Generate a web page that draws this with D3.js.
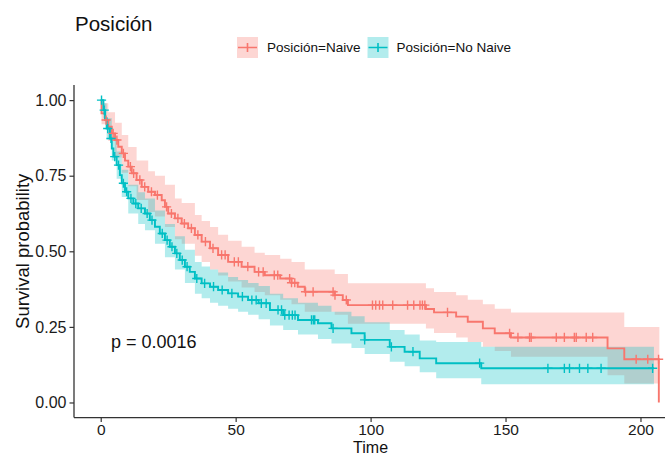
<!DOCTYPE html>
<html>
<head>
<meta charset="utf-8">
<script src="https://cdn.jsdelivr.net/npm/d3@7"></script>
<style>
  html, body { margin: 0; padding: 0; background: #fff; }
  svg { display: block; font-family: "Liberation Sans", Arial, sans-serif; }
</style>
</head>
<body>
<svg id="chart" width="665" height="456"></svg>
<script>
// Kaplan–Meier estimates by group: [time, survival]
const naiveSteps = [
  [0, 1], [0.3, 0.956], [1.6, 0.934], [2.8, 0.912], [4.1, 0.89], [5.3, 0.868],
  [6.5, 0.846], [7.8, 0.824], [9, 0.80], [10.2, 0.78], [11.5, 0.758], [13.3, 0.736],
  [15.2, 0.713], [17.6, 0.697], [20.1, 0.686], [22.6, 0.669], [23.8, 0.647], [25, 0.625],
  [27.5, 0.609], [30, 0.592], [32.4, 0.576], [34.9, 0.554], [37.4, 0.532], [40.5, 0.51],
  [43.5, 0.488], [47.2, 0.465], [52.2, 0.449], [57, 0.432], [60.8, 0.421], [66.5, 0.41],
  [70.7, 0.396], [73, 0.383], [75.6, 0.366], [86.7, 0.355], [89.7, 0.339], [91.6, 0.322],
  [120.5, 0.309], [123.5, 0.298], [131.7, 0.284], [136, 0.267], [141.6, 0.245], [146, 0.229],
  [152, 0.215], [187.8, 0.179], [194, 0.143], [206.8, 0]
];
const noNaiveSteps = [
  [0, 1], [1, 0.967], [1.6, 0.94], [2.2, 0.906], [3.4, 0.873], [4.1, 0.84], [4.7, 0.813],
  [5.9, 0.785], [7.1, 0.752], [7.8, 0.725], [9, 0.697], [10.2, 0.675], [12.1, 0.658],
  [13.9, 0.642], [16.4, 0.625], [18.2, 0.603], [20.1, 0.581], [21.9, 0.559], [23.8, 0.537],
  [25.6, 0.515], [27.5, 0.493], [29.3, 0.471], [31.2, 0.449], [33, 0.432], [34.9, 0.41],
  [37.4, 0.394], [40.5, 0.383], [43.5, 0.372], [47.2, 0.361], [50.9, 0.35], [54.6, 0.339],
  [58.5, 0.328], [62.7, 0.306], [67.6, 0.289], [73.1, 0.273], [80.5, 0.262], [85.5, 0.245],
  [92.9, 0.229], [97.8, 0.207], [107.1, 0.184], [112.6, 0.168], [118.2, 0.146], [124.3, 0.13],
  [141, 0.113], [205, 0.113]
];

// 95% confidence bands: [time, lower, upper]
const naiveBand = [
  [0, 1, 1], [0.3, 0.92, 0.99], [2.8, 0.865, 0.96], [5.3, 0.81, 0.925], [7.8, 0.76, 0.885],
  [10.2, 0.715, 0.845], [13.3, 0.67, 0.80], [17.6, 0.63, 0.765], [20.1, 0.615, 0.75],
  [23.8, 0.58, 0.72], [27.5, 0.54, 0.675], [30, 0.525, 0.66], [34.9, 0.485, 0.62],
  [37.4, 0.465, 0.60], [40.5, 0.44, 0.58], [43.5, 0.42, 0.555], [47.2, 0.40, 0.535],
  [52.2, 0.38, 0.515], [57, 0.365, 0.495], [60.8, 0.355, 0.488], [66.5, 0.34, 0.475],
  [70.7, 0.325, 0.465], [75.6, 0.30, 0.44], [86.7, 0.29, 0.425], [91.6, 0.26, 0.394],
  [120.5, 0.245, 0.378], [123.5, 0.23, 0.365], [131.7, 0.215, 0.355], [136, 0.20, 0.34],
  [141.6, 0.184, 0.325], [146, 0.17, 0.31], [152, 0.151, 0.298], [187.8, 0.09, 0.298],
  [194, 0.063, 0.25], [207, 0.063, 0.25]
];
const noNaiveBand = [
  [0, 1, 1], [1, 0.94, 0.99], [2.2, 0.87, 0.94], [4.1, 0.80, 0.88], [5.9, 0.74, 0.83],
  [7.8, 0.68, 0.77], [10.2, 0.625, 0.72], [13.9, 0.59, 0.695], [16.4, 0.57, 0.675],
  [20.1, 0.525, 0.635], [23.8, 0.48, 0.59], [27.5, 0.44, 0.55], [31.2, 0.395, 0.505],
  [34.9, 0.36, 0.465], [37.4, 0.345, 0.45], [40.5, 0.33, 0.44], [43.5, 0.32, 0.43],
  [47.2, 0.31, 0.415], [50.9, 0.30, 0.405], [54.6, 0.29, 0.395], [58.5, 0.275, 0.385],
  [62.7, 0.255, 0.36], [67.6, 0.24, 0.345], [73.1, 0.225, 0.33], [80.5, 0.21, 0.32],
  [85.5, 0.195, 0.30], [92.9, 0.18, 0.285], [97.8, 0.16, 0.265], [107.1, 0.135, 0.24],
  [112.6, 0.12, 0.225], [118.2, 0.10, 0.205], [124.3, 0.08, 0.20], [141, 0.06, 0.184],
  [205, 0.06, 0.184]
];

// Censoring times
const naiveCensor = [
  2.0, 4.6, 6.0, 8.4, 11.0, 12.2, 14.5, 16.3, 18.8, 21.0, 24.4, 26.2, 28.6, 31.0, 33.6,
  36.0, 38.8, 41.6, 44.8, 46.1, 49.5, 51.0, 54.5, 58.5, 60.2, 64.3, 65.6, 70.0, 70.7, 71.9,
  75.9, 78.7, 86.1, 86.8, 91.0, 100.7, 101.9, 103.3, 104.5, 108.2, 113.7, 116.0, 118.3,
  119.2, 120.1, 128.5, 151.5, 154.6, 158.9, 159.5, 168.8, 171.8, 175.5, 176.2, 179.9,
  182.3, 198.4, 202.7, 206.7
];
const noNaiveCensor = [
  0.3, 1.3, 2.6, 3.8, 5.2, 6.6, 8.4, 9.6, 11.2, 13.0, 15.0, 17.2, 19.0, 22.8, 24.6, 26.4,
  28.2, 30.2, 32.0, 35.6, 38.5, 41.8, 45.0, 48.6, 52.5, 56.0, 57.6, 59.5, 61.3, 65.7, 67.0,
  68.2, 69.8, 71.0, 72.0, 78.1, 78.8, 79.3, 86.1, 97.8, 107.7, 115.7, 140.4, 165.7, 171.8,
  173.7, 177.4, 180.5, 185.4, 204.5
];

const groupNames = ["Posición=Naive", "Posición=No Naive"];
const groupColors = ["#F8766D", "#00BFC4"];
const xTicks = [0, 50, 100, 150, 200];
const yTicks = [0, 0.25, 0.5, 0.75, 1];
const pValueText = "p = 0.0016";

const svg = d3.select("#chart");

const panel = { left: 74, top: 85, bottom: 417.6 };
const x = d3.scaleLinear().domain([-9.9, 217.35]).range([panel.left, 687.3]);
const y = d3.scaleLinear().domain([-0.05, 1.05]).range([panel.bottom, panel.top]);

const groups = [
  { steps: naiveSteps, band: naiveBand, censor: naiveCensor, color: groupColors[0] },
  { steps: noNaiveSteps, band: noNaiveBand, censor: noNaiveCensor, color: groupColors[1] }
];

// Confidence ribbons
const area = d3.area()
  .curve(d3.curveStepAfter)
  .x(d => x(d[0]))
  .y0(d => y(d[1]))
  .y1(d => y(d[2]));

svg.append("g").selectAll("path")
  .data(groups)
  .join("path")
  .attr("d", g => area(g.band))
  .attr("fill", g => g.color)
  .attr("fill-opacity", 0.3)
  .attr("stroke", "none");

// Survival curves
const line = d3.line()
  .curve(d3.curveStepAfter)
  .x(d => x(d[0]))
  .y(d => y(d[1]));

svg.append("g").selectAll("path")
  .data(groups)
  .join("path")
  .attr("d", g => line(g.steps))
  .attr("fill", "none")
  .attr("stroke", g => g.color)
  .attr("stroke-width", 1.9);

// Survival value at time t from a step table
function survAt(steps, t) {
  let v = steps[0][1];
  for (const s of steps) { if (s[0] <= t) v = s[1]; else break; }
  return v;
}

// Censoring marks ("+")
const half = 4.6;
groups.forEach(g => {
  svg.append("g").selectAll("path")
    .data(g.censor)
    .join("path")
    .attr("transform", t => `translate(${x(t)},${y(survAt(g.steps, t))})`)
    .attr("d", `M${-half},0H${half}M0,${-half}V${half}`)
    .attr("stroke", g.color)
    .attr("stroke-width", 1.4)
    .attr("fill", "none");
});

// Axes
const axisColor = "#333";
const xAxis = svg.append("g")
  .attr("transform", `translate(0,${panel.bottom})`)
  .call(d3.axisBottom(x).tickValues(xTicks).tickSize(4.5).tickPadding(1.5).tickFormat(d3.format("d")));
xAxis.select(".domain").attr("d", `M${panel.left},0H665`).attr("stroke", axisColor).attr("stroke-width", 1.3);
xAxis.selectAll(".tick line").attr("stroke", axisColor).attr("stroke-width", 1.2);
xAxis.selectAll(".tick text")
  .attr("font-size", "15.5px")
  .attr("fill", "#1a1a1a")
  .attr("font-family", "Liberation Sans, Arial, sans-serif");

const yAxis = svg.append("g")
  .attr("transform", `translate(${panel.left},0)`)
  .call(d3.axisLeft(y).tickValues(yTicks).tickSize(4.5).tickPadding(3).tickFormat(d3.format(".2f")));
yAxis.select(".domain").attr("d", `M0,${panel.top}V${panel.bottom}`).attr("stroke", axisColor).attr("stroke-width", 1.3);
yAxis.selectAll(".tick line").attr("stroke", axisColor).attr("stroke-width", 1.2);
yAxis.selectAll(".tick text")
  .attr("font-size", "16px")
  .attr("fill", "#1a1a1a")
  .attr("font-family", "Liberation Sans, Arial, sans-serif");

// Axis titles
svg.append("text")
  .attr("x", x(100))
  .attr("y", 452.5)
  .attr("text-anchor", "middle")
  .attr("font-size", "16px")
  .attr("fill", "#111")
  .text("Time");

svg.append("text")
  .attr("transform", `translate(28.5,${(panel.top + panel.bottom) / 2}) rotate(-90)`)
  .attr("text-anchor", "middle")
  .attr("font-size", "18.5px")
  .attr("fill", "#111")
  .text("Survival probability");

// p-value annotation
svg.append("text")
  .attr("x", 111)
  .attr("y", 348)
  .attr("font-size", "18px")
  .attr("fill", "#111")
  .text(pValueText);

// Title
svg.append("text")
  .attr("x", 75)
  .attr("y", 31)
  .attr("font-size", "20.5px")
  .attr("fill", "#111")
  .text("Posición");

// Legend
const legendItems = [
  { name: groupNames[0], color: groupColors[0], kx: 237, tx: 267 },
  { name: groupNames[1], color: groupColors[1], kx: 367.5, tx: 396.5 }
];
const legend = svg.append("g");
legendItems.forEach(it => {
  const ky = 37, ks = 21;
  legend.append("rect")
    .attr("x", it.kx).attr("y", ky).attr("width", ks).attr("height", ks)
    .attr("fill", it.color).attr("fill-opacity", 0.3);
  legend.append("path")
    .attr("d", `M${it.kx + 1},${ky + ks / 2}H${it.kx + ks - 1}M${it.kx + ks / 2},${ky + ks / 2 - 4.5}V${ky + ks / 2 + 4.5}`)
    .attr("stroke", it.color).attr("stroke-width", 1.6).attr("fill", "none");
  legend.append("text")
    .attr("x", it.tx).attr("y", ky + ks / 2 + 4.8)
    .attr("font-size", "13.5px")
    .attr("fill", "#111")
    .text(it.name);
});
</script>
</body>
</html>
